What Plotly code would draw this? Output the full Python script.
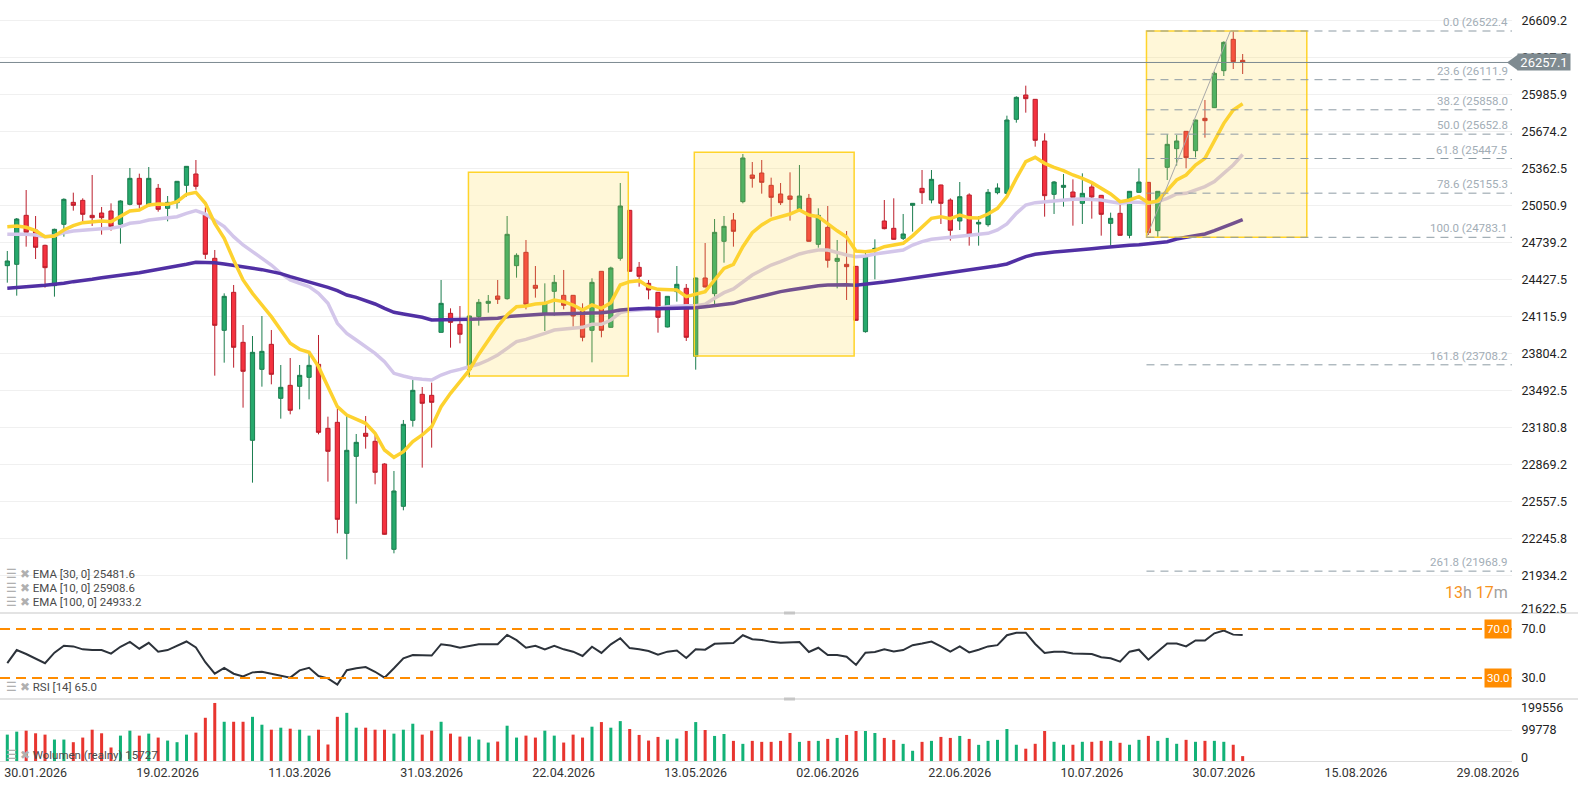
import plotly.graph_objects as go
from plotly.subplots import make_subplots

# daily candles, 27.01.2026 - 03.08.2026
opens = [24544.1, 24555.4, 24968.4, 24844.8, 24715.5, 24375.5, 24892.6, 25078.0, 25094.9, 24968.4,
         24988.1, 25005.0, 24892.6, 25061.2, 25280.3, 25050.0, 25196.0, 25027.5, 25075.2, 25221.3,
         25316.9, 24971.3, 24606.0, 23999.0, 24319.3, 23897.8, 23071.7, 23670.2, 23880.9, 23425.8,
         23535.3, 23526.9, 23602.8, 23712.4, 23172.9, 23223.4, 22287.7, 22936.8, 23130.7, 23063.3,
         22872.2, 22152.8, 22515.3, 23240.3, 23459.5, 23451.0, 23982.1, 24142.3, 24049.6, 23670.2,
         24114.2, 24226.6, 24288.4, 24265.9, 24544.1, 24656.5, 24378.3, 24142.3, 24327.8, 24294.0,
         24294.0, 24159.2, 23999.0, 24496.4, 24024.3, 24606.0, 25010.6, 24530.1, 24395.2, 24319.3,
         24027.1, 24325.0, 24353.1, 23779.8, 24440.2, 24308.1, 24749.3, 24929.1, 25083.7, 25308.4,
         25325.3, 25221.3, 25148.3, 25131.4, 25019.0, 25111.8, 24724.0, 24867.3, 24580.7, 24555.4,
         24538.5, 23987.8, 24676.2, 24920.7, 24858.9, 24774.6, 25052.7, 25196.0, 25097.7, 25224.2,
         25097.7, 24920.7, 25139.9, 24895.4, 24889.8, 25159.5, 25153.9, 25777.7, 25982.9, 25946.3,
         25595.1, 25145.5, 25204.5, 25165.1, 25069.6, 25207.3, 25137.0, 24901.0, 24985.3, 24799.8,
         25162.3, 25246.6, 24839.2, 25373.1, 25530.4, 25676.6, 25513.6, 25786.2, 25876.1, 26188.0,
         26452.1, 26275.1]
highs = [24667.8, 24945.9, 25182.0, 24962.8, 24721.0, 24856.0, 25111.8, 25159.5, 25111.8, 25308.4,
         25038.7, 25069.6, 25094.9, 25367.5, 25319.7, 25375.9, 25232.6, 25131.4, 25258.0, 25384.0,
         25434.9, 25035.9, 24676.2, 24310.9, 24381.2, 24043.9, 23951.2, 24119.8, 24001.8, 23706.8,
         23765.8, 23706.8, 23821.9, 23959.7, 23271.2, 23341.5, 23276.8, 23125.1, 23276.8, 23116.7,
         22878.0, 22813.2, 23243.1, 23585.9, 23521.3, 23557.8, 24423.3, 24184.5, 24204.1, 24122.0,
         24263.1, 24296.9, 24423.3, 24962.8, 24648.1, 24760.5, 24541.3, 24395.2, 24465.5, 24507.6,
         24297.0, 24226.6, 24437.4, 24499.0, 24535.7, 25241.0, 25013.0, 24575.1, 24423.3, 24322.0,
         24288.0, 24541.3, 24389.6, 24443.0, 24735.2, 24937.5, 24962.8, 24988.1, 25485.5, 25418.0,
         25434.9, 25286.0, 25241.0, 25330.9, 25392.8, 25148.3, 25027.5, 25047.1, 24760.5, 24836.4,
         24541.0, 24676.2, 24766.1, 25097.7, 25111.8, 24979.7, 25072.0, 25350.6, 25350.6, 25227.0,
         25111.8, 25249.4, 25153.9, 24962.8, 25190.4, 25238.2, 25808.6, 25971.6, 26061.5, 25949.0,
         25659.7, 25257.9, 25316.9, 25271.9, 25322.5, 25249.4, 25140.0, 24990.9, 25055.5, 25173.0,
         25364.7, 25249.0, 25173.0, 25651.3, 25645.7, 25679.0, 25775.0, 25940.7, 26179.6, 26435.3,
         26522.4, 26328.5]
lows = [24400.8, 24291.2, 24704.3, 24600.3, 24358.7, 24282.8, 24788.6, 25007.8, 24917.9, 24878.5,
        24805.5, 24839.2, 24729.6, 25052.7, 25027.5, 25041.5, 24999.4, 24917.9, 25024.6, 25125.8,
        25184.8, 24600.3, 23616.8, 23726.4, 23684.3, 23347.1, 22714.8, 23524.1, 23543.8, 23254.3,
        23290.9, 23333.0, 23417.3, 23122.3, 22723.3, 22287.7, 22068.5, 22537.8, 23001.4, 22700.8,
        22276.0, 22119.1, 22481.6, 23186.9, 22841.3, 23009.9, 23980.0, 23852.9, 23889.4, 23602.8,
        24038.0, 24147.9, 24221.0, 24257.5, 24443.0, 24176.0, 24274.4, 23993.4, 24122.6, 24176.0,
        24029.9, 23906.3, 23729.2, 23940.0, 24021.0, 24586.3, 24493.0, 24367.1, 24260.3, 23979.3,
        24024.0, 24240.7, 23909.1, 23667.4, 24361.0, 24212.6, 24569.4, 24704.3, 25069.6, 25201.7,
        25151.1, 24957.2, 25055.5, 24923.5, 24999.4, 24746.0, 24695.9, 24527.3, 24353.1, 24254.7,
        24080.0, 23979.3, 24428.9, 24850.4, 24763.0, 24760.5, 24830.8, 25064.0, 25069.6, 24895.4,
        24754.9, 24844.8, 24712.7, 24712.7, 24873.0, 25145.5, 25148.3, 25749.6, 25833.9, 25547.3,
        24957.2, 24979.7, 25041.5, 24881.3, 24895.4, 24940.3, 24797.0, 24712.7, 24797.0, 24774.6,
        25160.0, 24802.7, 24783.1, 25266.3, 25387.1, 25364.7, 25457.4, 25623.2, 25873.0, 26143.0,
        26202.0, 26159.9]
closes = [24583.5, 24937.5, 24825.1, 24698.7, 24527.3, 24850.4, 25103.3, 25052.7, 24976.9, 24948.8,
          24948.8, 24872.9, 25089.3, 25280.3, 25061.2, 25280.3, 25019.0, 25078.0, 25255.1, 25381.5,
          25212.9, 24639.7, 24041.1, 24285.6, 23855.7, 23653.4, 23813.5, 23821.9, 23628.1, 23518.5,
          23324.6, 23619.6, 23703.9, 23139.1, 22979.0, 22405.7, 22987.4, 23054.8, 23105.4, 22801.9,
          22279.3, 22644.6, 23206.6, 23493.2, 23383.6, 23392.0, 24226.6, 24066.4, 23965.3, 24119.8,
          24235.0, 24243.5, 24260.3, 24808.3, 24631.2, 24218.2, 24353.1, 24232.2, 24403.6, 24209.8,
          24119.8, 23940.0, 24403.6, 23999.0, 24524.5, 25047.1, 24496.4, 24454.2, 24339.0, 24108.6,
          24285.6, 24386.8, 23940.0, 24440.2, 24364.3, 24825.1, 24875.7, 24833.6, 25451.8, 25280.3,
          25246.6, 25120.2, 25075.2, 25103.3, 25131.4, 24749.3, 24968.4, 24589.1, 24605.9, 24535.7,
          24083.3, 24625.6, 24690.2, 24856.0, 24766.1, 24811.1, 25069.6, 25159.5, 25271.9, 25069.6,
          24842.0, 25125.8, 24808.3, 24909.4, 25162.3, 25198.9, 25772.1, 25963.2, 25952.0, 25600.7,
          25134.2, 25249.4, 25221.3, 25120.2, 25153.9, 25123.0, 24976.9, 24943.1, 24799.8, 25170.8,
          25249.4, 24822.3, 25170.8, 25567.0, 25595.1, 25454.6, 25772.1, 25766.5, 26165.5, 26426.8,
          26263.9, 26257.1]

ema10 = [24872.9, 24878.5, 24867.3, 24839.2, 24788.6, 24794.2, 24844.8, 24881.3, 24906.6, 24915.0,
         24920.7, 24915.0, 24957.2, 25005.0, 25013.4, 25055.5, 25064.0, 25061.2, 25083.7, 25145.5,
         25162.3, 25069.6, 24901.0, 24774.6, 24592.0, 24423.3, 24310.9, 24212.6, 24114.2, 24001.8,
         23889.4, 23838.8, 23813.5, 23692.7, 23524.1, 23355.5, 23285.3, 23248.7, 23215.0, 23130.7,
         22990.2, 22928.4, 22976.1, 23060.5, 23116.7, 23186.9, 23355.5, 23467.9, 23566.2, 23664.6,
         23798.0, 23917.5, 24029.9, 24128.3, 24198.5, 24204.1, 24221.0, 24226.6, 24254.7, 24240.7,
         24212.6, 24170.4, 24212.6, 24184.5, 24232.2, 24381.2, 24409.3, 24417.7, 24367.1, 24344.6,
         24344.6, 24339.0, 24282.8, 24305.3, 24325.0, 24423.3, 24521.7, 24555.4, 24704.3, 24822.3,
         24886.9, 24934.7, 24957.2, 24979.7, 25013.4, 24971.3, 24957.2, 24894.0, 24838.0, 24786.0,
         24667.8, 24662.2, 24672.0, 24704.3, 24718.4, 24732.4, 24795.0, 24865.0, 24943.2, 24957.2,
         24940.0, 24971.3, 24947.0, 24946.0, 24979.7, 25027.5, 25125.8, 25280.3, 25420.9, 25457.4,
         25406.8, 25373.1, 25345.0, 25308.4, 25280.3, 25243.8, 25196.0, 25148.3, 25083.7, 25097.7,
         25125.8, 25075.2, 25089.3, 25182.0, 25266.3, 25308.4, 25392.8, 25448.9, 25589.4, 25744.0,
         25856.4, 25908.6]
ema30 = [24808.3, 24811.1, 24808.3, 24802.7, 24788.6, 24797.0, 24822.3, 24836.4, 24844.8, 24850.4,
         24856.0, 24858.9, 24872.9, 24901.0, 24909.4, 24929.1, 24937.5, 24943.2, 24957.2, 24985.3,
         25007.8, 24979.7, 24923.5, 24872.9, 24788.6, 24718.4, 24662.2, 24606.0, 24549.7, 24479.5,
         24423.3, 24395.2, 24367.1, 24310.9, 24226.6, 24058.0, 23973.7, 23917.5, 23861.3, 23805.1,
         23734.9, 23636.5, 23614.0, 23594.4, 23585.9, 23580.3, 23622.5, 23650.6, 23670.2, 23692.7,
         23715.2, 23748.9, 23791.0, 23847.3, 23903.4, 23923.1, 23945.6, 23973.7, 24001.8, 24007.4,
         24015.9, 24024.3, 24049.6, 24049.6, 24086.1, 24147.9, 24164.8, 24170.4, 24176.0, 24184.5,
         24198.5, 24204.1, 24206.9, 24206.9, 24218.2, 24268.8, 24316.5, 24347.4, 24409.3, 24465.5,
         24507.6, 24549.7, 24577.8, 24611.6, 24642.5, 24662.2, 24676.2, 24676.2, 24653.7, 24634.1,
         24620.0, 24625.6, 24642.5, 24653.7, 24662.2, 24676.2, 24718.4, 24746.4, 24766.1, 24774.6,
         24783.0, 24788.6, 24797.0, 24802.7, 24816.7, 24844.8, 24895.4, 24985.3, 25055.5, 25075.2,
         25083.7, 25089.3, 25097.7, 25103.3, 25106.1, 25103.3, 25097.7, 25083.7, 25069.6, 25078.0,
         25078.0, 25069.6, 25083.7, 25111.8, 25148.3, 25153.9, 25182.0, 25210.1, 25252.3, 25322.5,
         25392.8, 25481.6]
ema100 = [24353.1, 24361.5, 24367.1, 24372.7, 24378.3, 24384.0, 24395.2, 24409.3, 24417.7, 24428.9,
          24443.0, 24451.4, 24459.8, 24473.9, 24485.1, 24499.2, 24513.2, 24527.3, 24535.7, 24555.4,
          24572.2, 24572.2, 24569.4, 24558.2, 24544.1, 24530.1, 24521.7, 24510.4, 24493.6, 24476.7,
          24451.4, 24428.9, 24412.1, 24389.6, 24361.5, 24333.4, 24296.9, 24277.2, 24249.1, 24221.0,
          24184.5, 24150.8, 24136.7, 24122.6, 24108.6, 24086.1, 24086.1, 24088.9, 24091.7, 24091.7,
          24094.5, 24094.5, 24100.2, 24114.2, 24119.8, 24128.3, 24133.9, 24136.7, 24136.7, 24139.5,
          24142.3, 24142.3, 24142.3, 24147.9, 24156.4, 24170.4, 24176.0, 24181.6, 24184.5, 24181.6,
          24184.5, 24184.5, 24184.5, 24190.1, 24198.5, 24206.9, 24212.6, 24226.6, 24249.1, 24268.8,
          24288.4, 24305.3, 24325.0, 24339.0, 24353.1, 24367.1, 24375.5, 24381.2, 24384.0, 24384.0,
          24380.0, 24386.8, 24395.2, 24406.4, 24417.7, 24428.9, 24440.2, 24451.4, 24462.6, 24473.9,
          24485.1, 24496.4, 24504.8, 24518.8, 24532.9, 24544.1, 24558.2, 24586.3, 24620.0, 24639.7,
          24650.9, 24659.3, 24665.0, 24670.6, 24679.0, 24687.4, 24695.9, 24704.3, 24709.9, 24715.5,
          24721.2, 24732.4, 24738.0, 24746.4, 24768.9, 24783.0, 24794.2, 24811.1, 24839.2, 24867.3,
          24901.0, 24933.2]

rsi14 = [42.1, 52.8, 49.6, 46.1, 42.1, 50.7, 56.3, 55.8, 53.4, 52.8, 52.8, 49.9, 55.5, 59.5, 53.9,
         58.7, 51.5, 52.8, 56.0, 59.8, 55.0, 42.9, 33.5, 38.3, 33.5, 31.3, 34.6, 35.1, 33.5, 31.9,
         30.3, 36.2, 38.3, 31.6, 29.7, 24.6, 36.4, 38.0, 38.9, 35.1, 30.3, 38.0, 46.1, 48.8, 48.5,
         48.3, 57.6, 56.6, 54.7, 56.0, 57.6, 57.6, 57.6, 65.2, 60.9, 54.7, 56.3, 53.4, 56.3, 53.4,
         51.5, 48.0, 55.5, 50.5, 57.5, 62.5, 54.4, 53.4, 52.0, 49.1, 51.5, 52.5, 46.4, 53.4, 53.1,
         57.9, 58.5, 58.5, 64.9, 61.7, 61.1, 59.5, 58.7, 58.7, 59.3, 51.2, 54.7, 48.8, 48.8, 47.4,
         40.7, 50.7, 51.2, 53.4, 51.7, 52.8, 56.8, 58.2, 59.8, 55.8, 51.5, 55.8, 50.9, 53.1, 55.8,
         56.8, 64.9, 67.0, 67.0, 57.8, 50.4, 51.5, 51.5, 50.1, 50.1, 49.6, 46.9, 46.1, 43.4, 51.5,
         53.1, 45.0, 51.7, 58.2, 58.2, 55.8, 60.6, 60.6, 66.5, 68.7, 65.4, 65.0]

volume = [84900, 94500, 97700, 89200, 84900, 69000, 69000, 60500, 75400, 100800, 89200, 43500,
          81700, 97700, 81700, 88100, 75400, 65800, 60500, 84900, 91300, 139100, 186800, 126300,
          126300, 126300, 142200, 116800, 100800, 107200, 104000, 100800, 81700, 100800, 53100,
          142200, 155000, 107200, 107200, 100800, 100800, 88100, 100800, 120000, 84900, 97700,
          126300, 88100, 78600, 78600, 69000, 59400, 62600, 113600, 75400, 81700, 75400, 97700,
          81700, 59400, 84900, 75400, 110400, 125300, 107200, 128400, 103000, 83900, 65800, 77500,
          69000, 72200, 96600, 125300, 99800, 80700, 87000, 64800, 55200, 64800, 61600, 61600,
          64800, 90200, 61600, 64800, 64800, 71100, 74300, 83900, 96600, 96600, 90200, 74300,
          67900, 55200, 32900, 61600, 64800, 77500, 74300, 80700, 71100, 52000, 64900, 68100,
          103000, 52300, 39600, 55400, 96600, 61800, 52300, 52300, 61800, 61800, 64900, 64900,
          58600, 52300, 68100, 80800, 64900, 74400, 55400, 68100, 61800, 64900, 64900, 61800,
          52300, 15727]

date_ticks = [3, 17, 31, 45, 59, 73, 87, 101, 115, 129, 143, 157]
date_labels = ["30.01.2026", "19.02.2026", "11.03.2026", "31.03.2026", "22.04.2026", "13.05.2026",
               "02.06.2026", "22.06.2026", "10.07.2026", "30.07.2026", "15.08.2026", "29.08.2026"]

price_labels = ["26609.2", "26297.5", "25985.9", "25674.2", "25362.5", "25050.9", "24739.2",
                "24427.5", "24115.9", "23804.2", "23492.5", "23180.8", "22869.2", "22557.5",
                "22245.8", "21934.2"]

fib_ratios = ["0.0", "23.6", "38.2", "50.0", "61.8", "78.6", "100.0", "161.8", "261.8"]
fib_levels = [26522.4, 26111.9, 25858.0, 25652.8, 25447.5, 25155.3, 24783.1, 23708.2, 21968.9]

# user drawn rectangles (bar from, bar to, price low, price high)
boxes = [(48.9, 65.85, 23614.0, 25331.0),
         (72.85, 89.8, 23782.5, 25499.8),
         (120.8, 137.8, 24783.1, 26522.4)]
fib_start = 120.8
fib_line = (120.8, 24783.1, 129.7, 26522.4)

bars = list(range(len(closes)))

W, H = 1578, 786
ML, MR, MT, MB = 0, 66, 0, 25
PW, PH = W - ML - MR, H - MT - MB
X_RANGE = [-0.774, 159.56]
Y_PRICE = [21616.0, 26783.7]
Y_RSI = [12.86, 83.06]
Y_VOL = [0, 199556]
main_dom = [148 / PH, 1]
rsi_dom = [62 / PH, 148 / PH]
vol_dom = [0, 62 / PH]

GREEN, GREEN_LINE = "#26a96c", "#1b7d4f"
RED, RED_LINE = "#f4323f", "#bb1f2c"
FONT = "Roboto"
AXIS_FONT = dict(family=FONT, size=12.5, color="#222")
LBL_PAD = 6

fig = make_subplots(rows=3, cols=1, shared_xaxes=True, vertical_spacing=0)

fig.add_trace(go.Scatter(x=bars, y=ema30, mode="lines", line=dict(color="#d3c6ea", width=3.5),
                         hoverinfo="skip"), row=1, col=1)
fig.add_trace(go.Scatter(x=bars, y=ema100, mode="lines", line=dict(color="#5130a4", width=3.5),
                         hoverinfo="skip"), row=1, col=1)
fig.add_trace(go.Candlestick(x=bars, open=opens, high=highs, low=lows, close=closes,
                             increasing=dict(fillcolor=GREEN, line=dict(color=GREEN_LINE, width=1)),
                             decreasing=dict(fillcolor=RED, line=dict(color=RED_LINE, width=1)),
                             whiskerwidth=0), row=1, col=1)
fig.add_trace(go.Scatter(x=bars, y=ema10, mode="lines", line=dict(color="#fdd22f", width=3.5),
                         hoverinfo="skip"), row=1, col=1)

fig.add_trace(go.Scatter(x=bars, y=rsi14, mode="lines", line=dict(color="#2c323a", width=2)),
              row=2, col=1)

vol_colors = ["#12b277" if c >= o else "#e8352f" for o, c in zip(opens, closes)]
fig.add_trace(go.Bar(x=bars, y=volume, marker_color=vol_colors, marker_line_width=0, width=0.32),
              row=3, col=1)

shapes = []
px_price = (Y_PRICE[1] - Y_PRICE[0]) / (PH * (main_dom[1] - main_dom[0]))

for x0, x1, y0, y1 in boxes:
    shapes.append(dict(type="rect", xref="x", yref="y", x0=x0, x1=x1, y0=y0, y1=y1,
                       fillcolor="rgba(255,214,60,0.2)", line=dict(color="#ffd42a", width=1.5),
                       layer="above"))
for lv in fib_levels:
    shapes.append(dict(type="line", xref="x", yref="y", x0=fib_start, x1=X_RANGE[1], y0=lv, y1=lv,
                       line=dict(color="#8d9ba4", width=1, dash="8px,6px"), layer="above"))
shapes.append(dict(type="line", xref="x", yref="y", x0=fib_line[0], y0=fib_line[1],
                   x1=fib_line[2], y1=fib_line[3], line=dict(color="#a9a9a9", width=1)))
# current price line + tag pointer
last = closes[-1]
shapes.append(dict(type="line", xref="paper", yref="y", x0=0, x1=1, y0=last, y1=last,
                   line=dict(color="#7d8a91", width=1)))
tag_h = 8 * px_price
shapes.append(dict(type="path", xref="paper", yref="y",
                   path=f"M {1507 / PW},{last} L {1518 / PW},{last + tag_h} "
                        f"L {1518 / PW},{last - tag_h} Z",
                   fillcolor="#7f8b91", line=dict(width=0)))
# RSI levels
for lv in (70, 30):
    shapes.append(dict(type="line", xref="paper", yref="y2", x0=0, x1=1, y0=lv, y1=lv,
                       line=dict(color="#ff8c00", width=2, dash="10px,6px")))
# panel separators and handles
for yp in (main_dom[0], rsi_dom[0]):
    shapes.append(dict(type="line", xref="paper", yref="paper", x0=0, x1=W / PW, y0=yp, y1=yp,
                       line=dict(color="#dadada", width=1.5)))
    shapes.append(dict(type="rect", xref="paper", yref="paper", x0=784 / PW, x1=795 / PW,
                       y0=yp - 1.5 / PH, y1=yp + 1.5 / PH, fillcolor="#c6c6c6", line=dict(width=0)))

ann = []
for r, lv in zip(fib_ratios, fib_levels):
    ann.append(dict(xref="paper", yref="y", x=1, y=lv, xanchor="right", yanchor="middle",
                    xshift=-2, yshift=9, showarrow=False, text=f"{r} ({lv:.1f}",
                    font=dict(family=FONT, size=11.5, color="#a2adb6")))
ann.append(dict(xref="paper", yref="y", x=1, y=last, xanchor="left", yanchor="middle", xshift=5,
                showarrow=False, text=f"{last:.1f}", bgcolor="#7f8b91", borderpad=1,
                width=50, height=14, align="center",
                font=dict(family=FONT, size=13, color="white")))
for lv in (70, 30):
    ann.append(dict(xref="paper", yref="y2", x=1, y=lv, xanchor="right", yanchor="middle",
                    showarrow=False, text=f"{lv:.1f}", bgcolor="#ff8c00", borderpad=2,
                    font=dict(family=FONT, size=11.5, color="white")))
# axis labels clipped at panel edges
for txt, ypx in (("21622.5", 608.3), ("199556", 707), ("0", 757)):
    ann.append(dict(xref="paper", yref="paper", x=1, y=(PH - ypx) / PH, xanchor="left",
                    yanchor="middle", xshift=LBL_PAD + 1, showarrow=False, text=txt, font=AXIS_FONT))
ann.append(dict(xref="paper", yref="paper", x=1510 / PW, y=(PH - 592.7) / PH, xanchor="right",
                yanchor="middle", showarrow=False,
                text="<span style='color:#f7931e'>13</span>h <span style='color:#f7931e'>17</span>m",
                font=dict(family=FONT, size=16, color="#a0a0a0")))

icons = "<span style='color:#b0b0b0'>☰ ✖</span> "
legend_rows = [(f"EMA [30, 0] {ema30[-1]:.1f}", 574), (f"EMA [10, 0] {ema10[-1]:.1f}", 588),
               (f"EMA [100, 0] {ema100[-1]:.1f}", 602), (f"RSI [14] {rsi14[-1]:.1f}", 687),
               (f"Wolumen (realny) {volume[-1]}", 755)]
for txt, ypx in legend_rows:
    ann.append(dict(xref="paper", yref="paper", x=4 / PW, y=(PH - ypx) / PH, xanchor="left",
                    yanchor="middle", showarrow=False, text=icons + txt,
                    font=dict(family=FONT, size=11.5, color="#4a4a4a")))

fig.update_layout(
    width=W, height=H, margin=dict(l=ML, r=MR, t=MT, b=MB, autoexpand=False),
    paper_bgcolor="white", plot_bgcolor="white", showlegend=False, boxgap=0.36,
    shapes=shapes, annotations=ann, font=dict(family=FONT),
    yaxis=dict(domain=main_dom, range=Y_PRICE, side="right", tickvals=[float(t) for t in price_labels],
               ticktext=price_labels, showgrid=True, gridcolor="#f0f0f0", zeroline=False,
               ticks="outside", ticklen=LBL_PAD, tickcolor="rgba(0,0,0,0)", tickfont=AXIS_FONT),
    yaxis2=dict(domain=rsi_dom, range=Y_RSI, side="right", tickvals=[70, 30], ticktext=["70.0", "30.0"],
                showgrid=False, zeroline=False, ticks="outside", ticklen=LBL_PAD,
                tickcolor="rgba(0,0,0,0)", tickfont=AXIS_FONT),
    yaxis3=dict(domain=vol_dom, range=Y_VOL, side="right", tickvals=[99778], ticktext=["99778"],
                showgrid=True, gridcolor="#eeeeee", zeroline=False, ticks="outside", ticklen=LBL_PAD,
                tickcolor="rgba(0,0,0,0)", tickfont=AXIS_FONT),
)
fig.update_yaxes(automargin=False)
for ax in ("xaxis", "xaxis2", "xaxis3"):
    fig.layout[ax].update(range=X_RANGE, showgrid=False, zeroline=False, rangeslider_visible=False,
                          automargin=False)
fig.update_xaxes(showticklabels=False)
fig.layout.xaxis3.update(showticklabels=True, tickvals=date_ticks, ticktext=date_labels,
                         showline=True, linecolor="#dddddd", ticks="",
                         tickfont=dict(family=FONT, size=12.5, color="#333"))

# page body has a default margin; remove it so the figure fills the window
fig.write_html("out.html", config={"displayModeBar": False},
               post_script="document.body.style.margin='0';"
                           "document.body.style.overflow='hidden';")
